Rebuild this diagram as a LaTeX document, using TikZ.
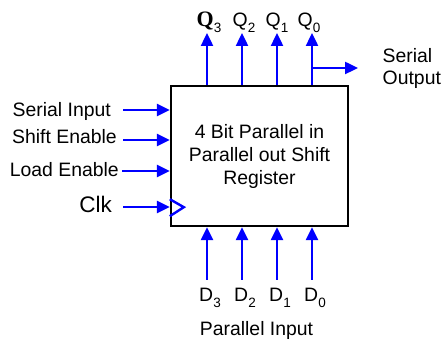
\documentclass[tikz,border=0pt]{standalone}
\usepackage{fontspec}
\setmainfont{Liberation Sans}
\newfontfamily\qserif{Liberation Serif}
\usepackage{tikz}
\usetikzlibrary{positioning, arrows.meta, calc}
\definecolor{sigblue}{HTML}{0000FF}
\newcommand{\lowsub}[1]{\raisebox{-5.5pt}{\fontsize{13.5}{14}\selectfont #1}}
\tikzset{
  regbox/.style={draw=black, line width=2.4pt, fill=white, align=center, minimum width=177pt, minimum height=140pt, inner sep=0pt, font=\fontsize{19.4}{23}\selectfont},
  lbl/.style={inner sep=0pt, font=\fontsize{19.4}{22}\selectfont},
  sig/.style={-{Triangle[length=13pt, width=12pt]}, line width=2.4pt, draw=sigblue},
  sigline/.style={line width=2.4pt, draw=sigblue},
}
\begin{document}
\begin{tikzpicture}[x=1pt, y=1pt]
  \useasboundingbox (0,0) rectangle (443,347);

  % The register block
  \node[regbox] (reg) at (259.5,191) {4 Bit Parallel in\\Parallel out Shift\\Register};

  % Parallel outputs on top
  \coordinate (q3) at (207,314);
  \coordinate (q2) at (242,314);
  \coordinate (q1) at (277,314);
  \coordinate (q0) at (312,314);
  \draw[sig] (q3 |- reg.north) -- (q3);
  \draw[sig] (q2 |- reg.north) -- (q2);
  \draw[sig] (q1 |- reg.north) -- (q1);
  \draw[sig] (q0 |- reg.north) -- (q0);
  \node[lbl, anchor=base] (q3lbl) at ([xshift=2pt, yshift=6pt]q3) {{\fontsize{22}{22}\selectfont\qserif\bfseries Q}\lowsub{3}};
  \node[lbl, anchor=base] (q2lbl) at ([xshift=2pt, yshift=6pt]q2) {Q\lowsub{2}};
  \node[lbl, anchor=base] (q1lbl) at ([xshift=0pt, yshift=6pt]q1) {Q\lowsub{1}};
  \node[lbl, anchor=base] (q0lbl) at ([xshift=-3pt, yshift=6pt]q0) {Q\lowsub{0}};

  % Serial output branch
  \coordinate (sout) at (358,279);
  \draw[sig] (sout -| q0) -- (sout);
  \node[lbl, anchor=west, align=left, right=24.5pt of sout] (soutlbl) {Serial\\Output};

  % Control inputs on the left
  \coordinate (sin) at (123,237);
  \coordinate (shen) at (123,207);
  \coordinate (lden) at (122,176);
  \coordinate (clk) at (123,140);
  \draw[sig] (sin) -- (sin -| reg.west);
  \draw[sig] (shen) -- (shen -| reg.west);
  \draw[sig] (lden) -- (lden -| reg.west);
  \draw[sig] (clk) -- (clk -| reg.west);
  \node[lbl, anchor=base east] (sinlbl) at ([xshift=-12pt, yshift=-7pt]sin) {Serial Input};
  \node[lbl, anchor=base east] (shenlbl) at ([xshift=-6pt, yshift=-4pt]shen) {Shift Enable};
  \node[lbl, anchor=base east] (ldenlbl) at ([xshift=-3pt, yshift=-6pt]lden) {Load Enable};
  \node[lbl, anchor=base east, font=\fontsize{22.5}{24}\selectfont] (clklbl) at ([xshift=-11pt, yshift=-6pt]clk) {Clk};

  % Clock mark
  \draw[sigline] ([yshift=11pt]reg.south west) -- ([xshift=14pt, yshift=20pt]reg.south west)
    -- ([yshift=28pt]reg.south west);

  % Parallel inputs at the bottom
  \coordinate (d3) at (207,67);
  \coordinate (d2) at (242,67);
  \coordinate (d1) at (277,67);
  \coordinate (d0) at (312,67);
  \draw[sig] (d3) -- (d3 |- reg.south);
  \draw[sig] (d2) -- (d2 |- reg.south);
  \draw[sig] (d1) -- (d1 |- reg.south);
  \draw[sig] (d0) -- (d0 |- reg.south);
  \node[lbl, anchor=base] (d3lbl) at ([xshift=3pt, yshift=-22pt]d3) {D\lowsub{3}};
  \node[lbl, anchor=base] (d2lbl) at ([xshift=3pt, yshift=-22pt]d2) {D\lowsub{2}};
  \node[lbl, anchor=base] (d1lbl) at ([xshift=3pt, yshift=-22pt]d1) {D\lowsub{1}};
  \node[lbl, anchor=base] (d0lbl) at ([xshift=3pt, yshift=-22pt]d0) {D\lowsub{0}};
  \node[lbl, anchor=base] (pinlbl) at (256.5,12) {Parallel Input};
\end{tikzpicture}
\end{document}
